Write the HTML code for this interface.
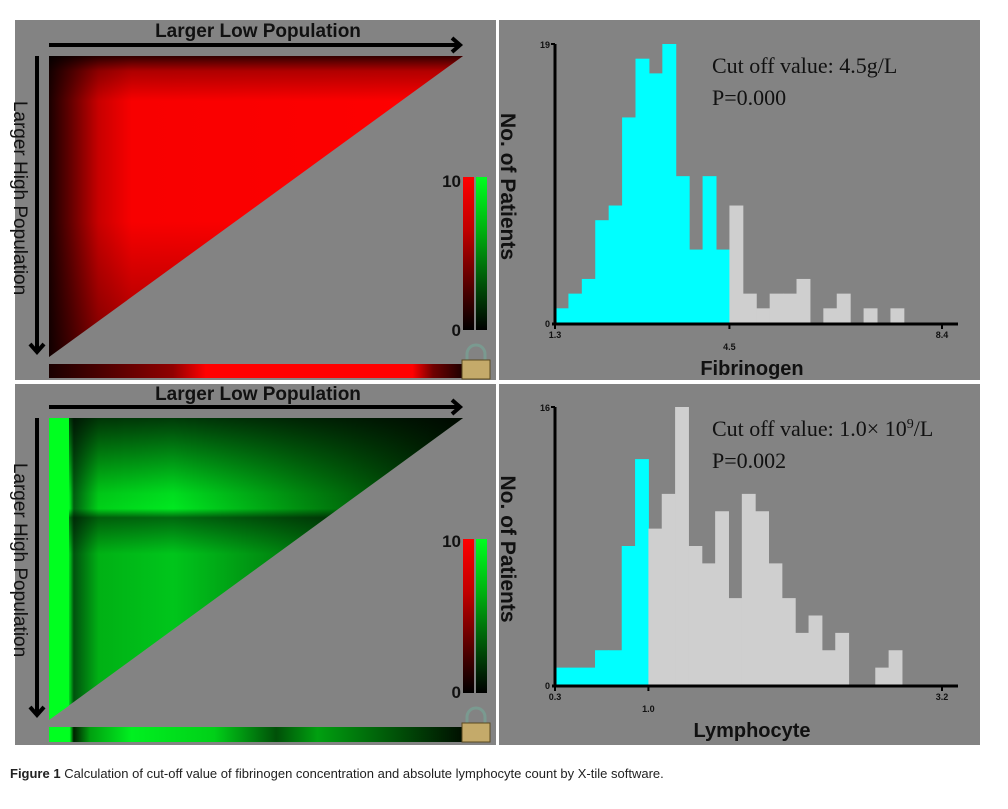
<!DOCTYPE html>
<html><head><meta charset="utf-8"><style>
body{margin:0;background:#fff;width:1008px;height:809px;overflow:hidden;font-family:"Liberation Sans",sans-serif}
svg{position:absolute;left:0;top:0}
</style></head><body>
<svg width="1008" height="809">
<defs>
<linearGradient id="redH" x1="49" x2="463" y1="0" y2="0" gradientUnits="userSpaceOnUse">
<stop offset="0" stop-color="#1a0000"/><stop offset="0.05" stop-color="#600000"/><stop offset="0.12" stop-color="#c80000"/><stop offset="0.2" stop-color="#f80000"/><stop offset="1" stop-color="#ff0000"/></linearGradient>
<linearGradient id="redV" x1="0" x2="0" y1="56" y2="357" gradientUnits="userSpaceOnUse">
<stop offset="0" stop-color="#000" stop-opacity="0.8"/><stop offset="0.05" stop-color="#000" stop-opacity="0.3"/><stop offset="0.15" stop-color="#000" stop-opacity="0"/><stop offset="0.55" stop-color="#000" stop-opacity="0"/><stop offset="1" stop-color="#000" stop-opacity="0.4"/></linearGradient>
<linearGradient id="grnH" x1="49" x2="463" y1="0" y2="0" gradientUnits="userSpaceOnUse">
<stop offset="0" stop-color="#00ff20"/><stop offset="0.05" stop-color="#00f020"/><stop offset="0.06" stop-color="#006010"/><stop offset="0.12" stop-color="#00d018"/><stop offset="0.3" stop-color="#00e820"/><stop offset="0.6" stop-color="#009010"/><stop offset="1" stop-color="#002000"/></linearGradient>
<linearGradient id="grnV" x1="0" x2="0" y1="418" y2="720" gradientUnits="userSpaceOnUse">
<stop offset="0" stop-color="#000" stop-opacity="0.75"/><stop offset="0.25" stop-color="#000" stop-opacity="0.05"/><stop offset="0.3" stop-color="#000" stop-opacity="0"/><stop offset="0.33" stop-color="#000" stop-opacity="0.55"/><stop offset="0.45" stop-color="#000" stop-opacity="0.15"/><stop offset="1" stop-color="#000" stop-opacity="0.15"/></linearGradient>
<linearGradient id="cbR" x1="0" x2="0" y1="0" y2="1"><stop offset="0" stop-color="#ff0000"/><stop offset="0.35" stop-color="#c00000"/><stop offset="1" stop-color="#000"/></linearGradient>
<linearGradient id="cbG" x1="0" x2="0" y1="0" y2="1"><stop offset="0" stop-color="#00ff20"/><stop offset="0.35" stop-color="#00b010"/><stop offset="1" stop-color="#000"/></linearGradient>
<linearGradient id="stripR" x1="0" x2="1"><stop offset="0" stop-color="#1a0000"/><stop offset="0.3" stop-color="#900000"/><stop offset="0.38" stop-color="#ff0000"/><stop offset="0.88" stop-color="#ff0000"/><stop offset="0.93" stop-color="#700000"/><stop offset="1" stop-color="#200000"/></linearGradient>
<linearGradient id="stripG" x1="0" x2="1"><stop offset="0" stop-color="#00ff20"/><stop offset="0.05" stop-color="#00ff20"/><stop offset="0.06" stop-color="#002000"/><stop offset="0.1" stop-color="#00a010"/><stop offset="0.2" stop-color="#00f020"/><stop offset="0.4" stop-color="#00d018"/><stop offset="0.55" stop-color="#005008"/><stop offset="0.65" stop-color="#00a010"/><stop offset="1" stop-color="#001000"/></linearGradient>
</defs>

<rect x="15" y="20" width="481" height="360" fill="#838383"/>
<rect x="499" y="20" width="481" height="360" fill="#838383"/>
<rect x="15" y="384" width="481" height="361" fill="#838383"/>
<rect x="499" y="384" width="481" height="361" fill="#838383"/>

<g>
<polygon points="49,56 463,56 49,357" fill="url(#redH)"/>
<polygon points="49,56 463,56 49,357" fill="url(#redV)"/>
</g>
<text x="258" y="37" text-anchor="middle" font-size="19" font-weight="bold" fill="#111">Larger Low Population</text>
<line x1="49" y1="45" x2="458" y2="45" stroke="#000" stroke-width="4"/>
<polyline points="452,38 460,45 452,52" fill="none" stroke="#000" stroke-width="4"/>
<line x1="37" y1="56" x2="37" y2="350" stroke="#000" stroke-width="4"/>
<polyline points="30,344 37,352 44,344" fill="none" stroke="#000" stroke-width="4"/>
<text transform="translate(14,198) rotate(90)" text-anchor="middle" font-size="19" fill="#111">Larger High Population</text>
<text x="461" y="187" text-anchor="end" font-size="17" font-weight="bold" fill="#111">10</text>
<text x="461" y="336" text-anchor="end" font-size="17" font-weight="bold" fill="#111">0</text>
<rect x="463" y="177" width="11" height="153" fill="url(#cbR)"/>
<rect x="476" y="177" width="11" height="153" fill="url(#cbG)"/>
<rect x="49" y="364" width="413" height="14" fill="url(#stripR)"/>
<g><path d="M467,360 v-6 a9,9 0 0 1 18,0 v6" fill="none" stroke="#7a9a90" stroke-width="3"/><rect x="462" y="360" width="28" height="19" fill="#c4aa6a" stroke="#5a4a20"/></g>

<g>
<polygon points="49,418 463,418 49,720" fill="url(#grnH)"/>
<polygon points="49,418 463,418 49,720" fill="url(#grnV)"/>
<rect x="49" y="418" width="20" height="302" fill="#00ff20"/>
<polygon points="49,720 70,705 70,720" fill="#838383"/>
</g>
<text x="258" y="400" text-anchor="middle" font-size="19" font-weight="bold" fill="#111">Larger Low Population</text>
<line x1="49" y1="407" x2="458" y2="407" stroke="#000" stroke-width="4"/>
<polyline points="452,400 460,407 452,414" fill="none" stroke="#000" stroke-width="4"/>
<line x1="37" y1="418" x2="37" y2="713" stroke="#000" stroke-width="4"/>
<polyline points="30,707 37,715 44,707" fill="none" stroke="#000" stroke-width="4"/>
<text transform="translate(14,560) rotate(90)" text-anchor="middle" font-size="19" fill="#111">Larger High Population</text>
<text x="461" y="547" text-anchor="end" font-size="17" font-weight="bold" fill="#111">10</text>
<text x="461" y="698" text-anchor="end" font-size="17" font-weight="bold" fill="#111">0</text>
<rect x="463" y="539" width="11" height="154" fill="url(#cbR)"/>
<rect x="476" y="539" width="11" height="154" fill="url(#cbG)"/>
<rect x="49" y="727" width="413" height="15" fill="url(#stripG)"/>
<g><path d="M467,723 v-6 a9,9 0 0 1 18,0 v6" fill="none" stroke="#7a9a90" stroke-width="3"/><rect x="462" y="723" width="28" height="19" fill="#c4aa6a" stroke="#5a4a20"/></g>

<g id="h1"></g>
<g id="h2"></g>

<text x="10" y="778" font-size="13" fill="#222"><tspan font-weight="bold">Figure 1</tspan> Calculation of cut-off value of fibrinogen concentration and absolute lymphocyte count by X-tile software.</text>
</svg>
<script>
const fibCounts=[1,2,3,7,8,14,18,17,19,10,5,10,5,8,2,1,2,2,3,0,1,2,0,1,0,1];
const fibCutIndex=13;
const fibTicks=["1.3","4.5","8.4"];
const lymCounts=[1,1,1,2,2,8,13,9,11,16,8,7,10,5,11,10,7,5,3,4,2,3,0,0,1,2];
const lymCutIndex=7;
const lymTicks=["0.3","1.0","3.2"];
const NS="http://www.w3.org/2000/svg";
function mk(p,t,a){const e=document.createElementNS(NS,t);for(const k in a)e.setAttribute(k,a[k]);p.appendChild(e);return e;}
function hist(g,counts,cut,ticks,xmin,xmax,cutVal,ymax,y0,y1,xlabel,ann1,ann2,binW){
  const X0=555,X1=942;
  const sx=v=>X0+(v-xmin)/(xmax-xmin)*(X1-X0);
  const sy=v=>y0-(v/ymax)*(y0-y1);
  counts.forEach((c,i)=>{
    if(!c)return;
    const a=sx(xmin+i*binW),b=sx(xmin+(i+1)*binW);
    const r=mk(g,'rect',{x:a,y:sy(c),width:b-a+0.5,height:y0-sy(c),fill:i<cut?'#00ffff':'#cfcfcf'});
    
    
  });
  mk(g,'line',{x1:X0,y1:y1,x2:X0,y2:y0+2,stroke:'#000','stroke-width':3});
  mk(g,'line',{x1:X0-3,y1:y0+1,x2:958,y2:y0+1,stroke:'#000','stroke-width':3});
  mk(g,'line',{x1:X0-4,y1:y1,x2:X0,y2:y1,stroke:'#000','stroke-width':2});
  const tv=[xmin,cutVal,xmax];
  tv.forEach((v,i)=>{
    mk(g,'line',{x1:sx(v),y1:y0,x2:sx(v),y2:y0+6,stroke:'#000','stroke-width':2});
    const t=mk(g,'text',{x:sx(v),y:i==1?y0+27:y0+15,'text-anchor':'middle','font-size':9,'font-weight':'bold',fill:'#111'});
    t.textContent=ticks[i];
    
    
  });
  let t=mk(g,'text',{x:X0-5,y:y1+4,'text-anchor':'end','font-size':9,'font-weight':'bold',fill:'#111'});t.textContent=String(ymax);
  t=mk(g,'text',{x:X0-5,y:y0+4,'text-anchor':'end','font-size':9,'font-weight':'bold',fill:'#111'});t.textContent='0';
  t=mk(g,'text',{transform:`translate(501,${(y0+y1)/2+3}) rotate(90)`,'text-anchor':'middle','font-size':21,'font-weight':'bold',fill:'#111'});t.textContent='No. of Patients';
  
  
  t=mk(g,'text',{x:752,y:y0+52,'text-anchor':'middle','font-size':20,'font-weight':'bold',fill:'#111'});t.textContent=xlabel;
  
  
  t=mk(g,'text',{x:712,y:y1+29,'font-size':22,'font-family':'Liberation Serif, serif',fill:'#111'});t.innerHTML=ann1;
  
  
  t=mk(g,'text',{x:712,y:y1+61,'font-size':22,'font-family':'Liberation Serif, serif',fill:'#111'});t.textContent=ann2;
  
  
}
hist(document.getElementById('h1'),fibCounts,fibCutIndex,fibTicks,1.3,8.4,4.5,19,323,44,'Fibrinogen','Cut off value:  4.5g/L','P=0.000',(4.5-1.3)/fibCutIndex);
hist(document.getElementById('h2'),lymCounts,lymCutIndex,lymTicks,0.3,3.2,1.0,16,685,407,'Lymphocyte','Cut off value:  1.0× 10<tspan dy="-8" font-size="14">9</tspan><tspan dy="8">/L</tspan>','P=0.002',(1.0-0.3)/lymCutIndex);
</script>
</body></html>
